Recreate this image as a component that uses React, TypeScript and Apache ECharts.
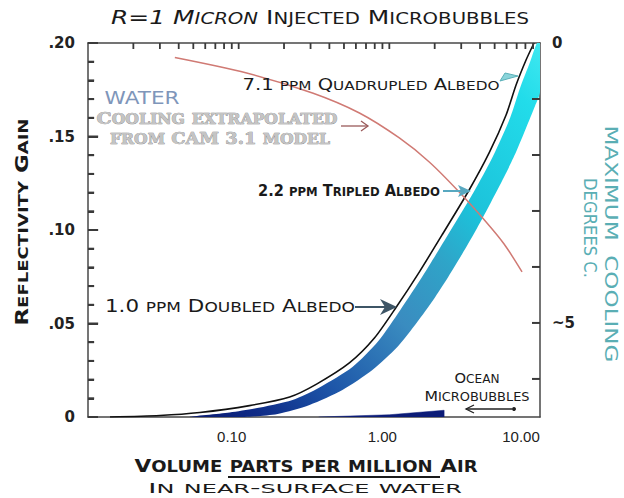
import React, { useEffect, useRef } from 'react';
import * as echarts from 'echarts';

// ---- data (x: ppm air, log scale; y: reflectivity gain) ----
const blackLine: number[][] = [
  [0.014, 0], [0.03, 0.0008], [0.0552, 0.0024], [0.118, 0.0061], [0.218, 0.0107],
  [0.329, 0.0176], [0.543, 0.0289], [0.796, 0.0422], [1.113, 0.0588], [1.58, 0.0775],
  [2.279, 0.0984], [3.386, 0.1214], [4.595, 0.1412], [5.955, 0.1615], [6.936, 0.1775],
  [8.08, 0.1909], [9.127, 0.2],
];
const bandUpper: number[][] = [
  [0.0474, 0], [0.0871, 0.0024], [0.1277, 0.0045], [0.2278, 0.0091], [0.3439, 0.0158],
  [0.5689, 0.0267], [0.8457, 0.0406], [1.1825, 0.0572], [1.68, 0.0759], [2.422, 0.0968],
  [3.6, 0.1198], [4.884, 0.1396], [6.328, 0.1599], [7.372, 0.1759], [8.587, 0.1898], [9.552, 0.2],
];
const bandLower: number[][] = [
  [10, 0.2], [10, 0.1738], [9.267, 0.1663], [8.08, 0.1545], [6.936, 0.1417], [5.774, 0.1283],
  [4.737, 0.115], [3.826, 0.1011], [3.044, 0.0872], [2.459, 0.0749], [1.956, 0.0626],
  [1.532, 0.0508], [1.13, 0.0374], [0.7718, 0.0251], [0.4884, 0.0144], [0.2953, 0.0064],
  [0.1813, 0.0016], [0.1096, 0],
];
const oceanWedge: number[][] = [[0.34, 0], [1.0, 0.0012], [2.31, 0.0036], [2.31, 0]];
// cooling (degrees C, right axis, inverted)
const coolingCurve: number[][] = [
  [0.0377, 0.259], [0.113, 0.536], [0.309, 0.893], [0.633, 1.25], [1.165, 1.696],
  [1.841, 2.125], [2.908, 2.661], [4.389, 3.196], [5.774, 3.589], [7.6, 4.089],
];

const xLabelValues = [0.1, 1, 10];
const xLabelTexts = ['0.10', '1.00', '10.00'];
const topTickValues = [
  0.02, 0.03, 0.04, 0.05, 0.06, 0.07, 0.08, 0.09, 0.1,
  0.2, 0.3, 0.4, 0.5, 0.6, 0.7, 0.8, 0.9, 1,
  2, 3, 4, 5, 6, 7, 8, 9,
];
const leftMajorTicks = [0.05, 0.1, 0.15];
const leftMinorTicks = [
  0.01, 0.02, 0.03, 0.04, 0.06, 0.07, 0.08, 0.09,
  0.11, 0.12, 0.13, 0.14, 0.16, 0.17, 0.18, 0.19,
];
const rightTickValues = [1, 2, 3, 4, 5, 6];
const rightLabelValues = [0, 5];
const rightLabelTexts = ['0', '~5'];

let _ctx: CanvasRenderingContext2D | null = null;
function textW(t: string, font: string) {
  if (!_ctx) _ctx = document.createElement('canvas').getContext('2d');
  if (!_ctx) return t.length * 8;
  _ctx.font = font;
  return _ctx.measureText(t).width;
}

interface LabelOpt {
  x: number; y: number; w: number; F: number; f: number; weight?: string; family?: string;
  color: string; rotation?: number; stroke?: string; lineWidth?: number;
}
function scLabel(parts: Array<[string, boolean?]>, o: LabelOpt) {
  const rich: any = {};
  let str = '';
  let width = 0;
  let k = 0;
  const fam = o.family || 'DejaVu Sans';
  const wt = o.weight || 'normal';
  parts.forEach(([t, it]) => {
    (t.match(/[a-z]+|[^a-z]+/g) || []).forEach((run) => {
      const small = /[a-z]/.test(run[0]);
      const size = small ? o.f : o.F;
      const txt = run.toUpperCase();
      const key = 't' + k++;
      const fs = it ? 'italic' : 'normal';
      rich[key] = { fontSize: size, fontFamily: fam, fontWeight: wt, fontStyle: fs, fill: o.color, verticalAlign: 'bottom' };
      if (o.stroke) { rich[key].stroke = o.stroke; rich[key].lineWidth = o.lineWidth || 1; }
      str += '{' + key + '|' + txt + '}';
      width += textW(txt, `${fs} ${wt} ${size}px "${fam}"`);
    });
  });
  return {
    type: 'text', x: o.x, y: o.y, rotation: o.rotation || 0, scaleX: o.w / width, z: 50, silent: true,
    style: { text: str, rich, align: 'center', verticalAlign: 'middle', textAlign: 'center', textVerticalAlign: 'middle' },
  };
}

const tickColor = '#3a3a3a';

export default function App() {
  const ref = useRef<HTMLDivElement>(null);
  useEffect(() => {
    if (!ref.current) return;
    const chart = echarts.init(ref.current, undefined, { renderer: 'svg' });
    const axisColor = '#474747';
    const bandGradient = new echarts.graphic.LinearGradient(0, 1, 1, 0, [
      { offset: 0, color: '#0a1a70' },
      { offset: 0.1, color: '#0e2a86' },
      { offset: 0.24, color: '#1d55a8' },
      { offset: 0.43, color: '#3a8cc0' },
      { offset: 0.57, color: '#2fa4c8' },
      { offset: 0.68, color: '#1cc2da' },
      { offset: 0.9, color: '#22dcea' },
      { offset: 1, color: '#40e8f0' },
    ]);
    const richX: any = {};
    xLabelTexts.forEach((t, i) => {
      richX['l' + i] = {
        fontFamily: '"Liberation Sans Narrow", "Liberation Sans", sans-serif', fontSize: 15, color: '#222',
        padding: [0, i === 2 ? 38 : 14, 0, 0],
      };
    });
    const axisLine = { show: true, onZero: false, lineStyle: { color: axisColor, width: 1.5 } };
    const graphics: any[] = [
      scLabel([['R=1 Micron', true], [' Injected Microbubbles']], { x: 320, y: 17, w: 418, F: 19, f: 15, color: '#1a1a1a' }),
      scLabel([['7.1 ppm Quadrupled Albedo']], { x: 371, y: 84, w: 257, F: 16, f: 12.5, color: '#1a1a1a' }),
      scLabel([['WATER']], { x: 142, y: 98, w: 75, F: 17, f: 17, color: '#7f96ba' }),
      scLabel([['Cooling extrapolated']], { x: 217, y: 118, w: 241, F: 17, f: 14, family: 'DejaVu Serif', weight: 'bold', color: '#c4c4c4', stroke: '#7f7f7f', lineWidth: 0.6 }),
      scLabel([['from CAM 3.1 model']], { x: 220, y: 138, w: 220, F: 16, f: 14, family: 'DejaVu Serif', weight: 'bold', color: '#c4c4c4', stroke: '#7f7f7f', lineWidth: 0.6 }),
      scLabel([['2.2 ppm Tripled Albedo']], { x: 349, y: 190, w: 182, F: 15, f: 12, weight: 'bold', color: '#1a1a1a' }),
      scLabel([['1.0 ppm Doubled Albedo']], { x: 230, y: 306, w: 250, F: 17, f: 13.5, color: '#1a1a1a' }),
      scLabel([['Ocean']], { x: 477, y: 378, w: 45, F: 14, f: 11.5, color: '#1a1a1a' }),
      scLabel([['Microbubbles']], { x: 477, y: 396, w: 105, F: 14, f: 11.5, color: '#1a1a1a' }),
      scLabel([['Volume parts per million Air']], { x: 306, y: 466, w: 343, F: 18, f: 15, weight: 'bold', color: '#1a1a1a' }),
      scLabel([['In near-surface water']], { x: 305, y: 488, w: 314, F: 14, f: 11.5, color: '#1a1a1a' }),
      scLabel([['Reflectivity Gain']], { x: 22, y: 222, w: 207, F: 17, f: 13.5, weight: 'bold', color: '#1a1a1a', rotation: Math.PI / 2 }),
      scLabel([['MAXIMUM  COOLING']], { x: 611, y: 244, w: 237, F: 17, f: 17, color: '#5aaeb4', rotation: -Math.PI / 2 }),
      scLabel([['DEGREES C.']], { x: 590, y: 228, w: 100, F: 17, f: 17, color: '#5aaeb4', rotation: -Math.PI / 2 }),
      // underline
      { type: 'line', z: 50, silent: true, shape: { x1: 228, y1: 477, x2: 440, y2: 477 }, style: { stroke: '#1a1a1a', lineWidth: 1.8 } },
      // quadrupled arrow
      { type: 'polygon', z: 50, silent: true, shape: { points: [[500, 81], [518, 76], [505, 73]] }, style: { fill: '#8ad4da', stroke: '#5ab0b8', lineWidth: 1 } },
      // tripled arrow
      { type: 'line', z: 50, silent: true, shape: { x1: 443, y1: 191, x2: 462, y2: 191 }, style: { stroke: '#58a8c0', lineWidth: 2 } },
      { type: 'polygon', z: 50, silent: true, shape: { points: [[458, 185], [471, 191], [458, 197], [461, 191]] }, style: { fill: '#58a8c0' } },
      // doubled arrow
      { type: 'line', z: 50, silent: true, shape: { x1: 355, y1: 307, x2: 390, y2: 307 }, style: { stroke: '#3d5566', lineWidth: 2 } },
      { type: 'polygon', z: 50, silent: true, shape: { points: [[380, 299], [397, 307], [380, 315], [385, 307]] }, style: { fill: '#3d5566' } },
      // cooling arrow
      { type: 'polyline', z: 50, silent: true, shape: { points: [[341, 126], [368, 126]] }, style: { stroke: '#9a5a5a', lineWidth: 1.3, fill: 'none' } },
      { type: 'polyline', z: 50, silent: true, shape: { points: [[361, 121], [368, 126], [361, 131]] }, style: { stroke: '#9a5a5a', lineWidth: 1.3, fill: 'none' } },
      // ocean arrow
      { type: 'polyline', z: 50, silent: true, shape: { points: [[466, 409], [512, 409]] }, style: { stroke: '#222', lineWidth: 1.3, fill: 'none' } },
      { type: 'polyline', z: 50, silent: true, shape: { points: [[474, 405], [466, 409], [474, 413]] }, style: { stroke: '#222', lineWidth: 1.3, fill: 'none' } },
      { type: 'circle', z: 50, silent: true, shape: { cx: 514, cy: 409, r: 2 }, style: { fill: '#222' } },
    ];
    const option: any = {
      animation: false,
      grid: { left: 88, right: 84, top: 43, bottom: 81, containLabel: false },
      xAxis: [
        {
          type: 'log', logBase: 10, min: 0.01, max: 10, position: 'bottom', axisLine,
          axisTick: { show: false }, minorTick: { show: false }, splitLine: { show: false },
          axisLabel: {
            margin: 12, showMinLabel: true, showMaxLabel: true,
            formatter: (v: number) => {
              const i = xLabelValues.findIndex((x) => Math.abs(Math.log10(x) - Math.log10(v)) < 0.01);
              return i < 0 ? '' : '{l' + i + '|' + xLabelTexts[i] + '}';
            },
            rich: richX,
          },
        },
        {
          type: 'log', logBase: 10, min: 0.01, max: 10, position: 'top', axisLine,
          axisTick: { show: false }, axisLabel: { show: false }, splitLine: { show: false }, minorTick: { show: false },
        },
      ],
      yAxis: [
        {
          type: 'value', min: 0, max: 0.2, interval: 0.05, position: 'left', axisLine,
          axisTick: { show: true, inside: true, length: 10, lineStyle: { color: tickColor, width: 2 } },
          minorTick: { show: true, splitNumber: 5, length: 6, lineStyle: { color: tickColor, width: 2 } },
          splitLine: { show: false },
          axisLabel: {
            margin: 13, fontFamily: 'DejaVu Sans', fontSize: 15, fontWeight: 'bold', color: '#222',
            formatter: (v: number) => (v === 0 ? '0' : '.' + String(Math.round(v * 100)).padStart(2, '0')),
          },
        },
        {
          type: 'value', min: 0, max: 6.68, interval: 1, inverse: true, position: 'right', axisLine,
          axisTick: { show: false }, splitLine: { show: false },
          axisLabel: {
            margin: 12, fontFamily: 'DejaVu Sans', fontSize: 15, fontWeight: 'bold', color: '#222',
            formatter: (v: number) => {
              const i = rightLabelValues.indexOf(Math.round(v * 100) / 100);
              return i < 0 ? '' : rightLabelTexts[i];
            },
          },
        },
      ],
      series: [
        {
          type: 'custom', xAxisIndex: 0, yAxisIndex: 0, z: 1, silent: true, clip: true,
          data: [[1, 0.1]],
          renderItem: (params: any, api: any) => {
            if (params.dataIndex !== 0) return null;
            const pts = bandUpper.concat(bandLower).map((p) => api.coord(p));
            return { type: 'polygon', shape: { points: pts, smooth: 0.25 }, style: { fill: bandGradient } };
          },
        },
        {
          type: 'line', xAxisIndex: 0, yAxisIndex: 0, data: oceanWedge, symbol: 'none', z: 2, silent: true,
          lineStyle: { width: 0.5, color: '#0c1c78' }, areaStyle: { color: '#0c1c78', opacity: 1 },
        },
        {
          type: 'line', xAxisIndex: 0, yAxisIndex: 0, data: blackLine, symbol: 'none', smooth: 0.25, z: 3, silent: true,
          lineStyle: { width: 1.6, color: '#111' },
        },
        {
          type: 'line', xAxisIndex: 0, yAxisIndex: 1, data: coolingCurve, symbol: 'none', smooth: 0.3, z: 4, silent: true,
          lineStyle: { width: 1.5, color: '#d07a74' },
        },
      ],
      graphic: graphics,
    };
    chart.setOption(option);

    // tick marks placed through the axes' own scales
    const toPx = (x: number, y: number, yi: number) =>
      chart.convertToPixel({ xAxisIndex: 0, yAxisIndex: yi } as any, [x, y]) as unknown as number[];
    const ticks: any[] = [];
    const addRect = (x: number, y: number, w: number, h: number) => {
      if (isFinite(x) && isFinite(y)) {
        ticks.push({ type: 'rect', z: 60, silent: true, shape: { x, y, width: w, height: h }, style: { fill: tickColor } });
      }
    };
    const leftX = toPx(0.0101, 3, 1)[0] - 0.5;
    leftMajorTicks.forEach((v) => { const y = toPx(1, v, 0)[1]; addRect(leftX, y - 1, 10, 2); });
    leftMinorTicks.forEach((v) => { const y = toPx(1, v, 0)[1]; addRect(leftX, y - 1, 6, 2); });
    topTickValues.forEach((v) => { const p = toPx(v, 0, 1); addRect(p[0] - 0.9, p[1], 1.8, 6); });
    rightTickValues.forEach((v) => { const p = toPx(10, v, 1); addRect(p[0] - 8, p[1] - 1, 8, 2); });
    chart.setOption({ graphic: graphics.concat(ticks) });

    return () => chart.dispose();
  }, []);
  return <div ref={ref} style={{ position: 'fixed', left: 0, top: 0, width: 624, height: 498, background: '#fff' }} />;
}
